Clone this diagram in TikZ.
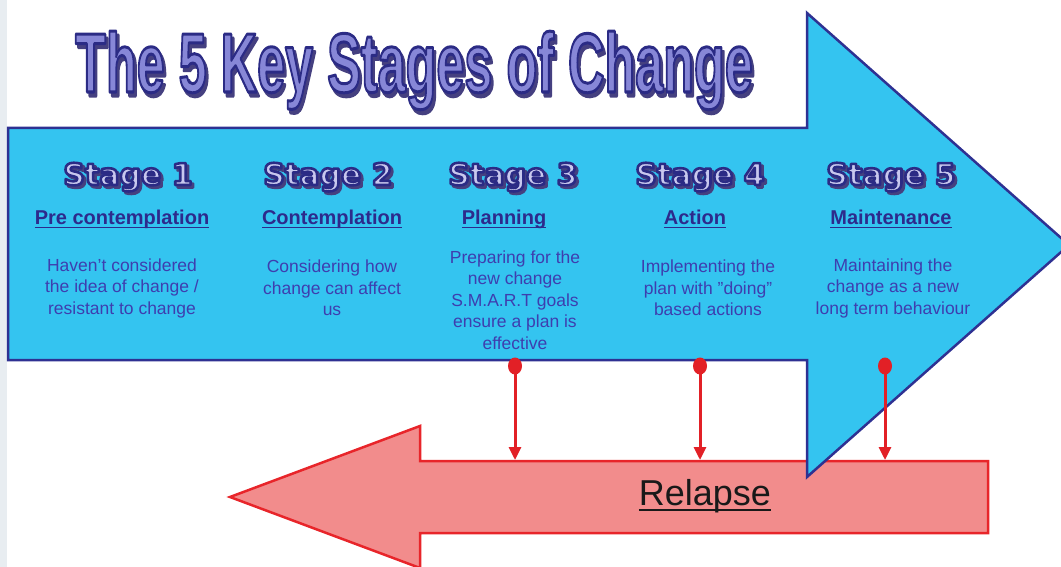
\documentclass[tikz,border=0pt]{standalone}
\usepackage{fontspec}
\setmainfont{Liberation Sans}
\newfontfamily\stagefont{DejaVu Sans}
\usetikzlibrary{arrows.meta,shapes.geometric}

\definecolor{arrowblue}{RGB}{52,196,240}
\definecolor{edgeblue}{RGB}{46,49,146}
\definecolor{relapsefill}{RGB}{242,140,140}
\definecolor{relapseedge}{RGB}{232,37,42}
\definecolor{linkred}{RGB}{226,32,38}
\definecolor{phasenavy}{RGB}{45,42,140}
\definecolor{bodyblue}{RGB}{62,62,175}
\definecolor{titlefill}{RGB}{135,135,215}
\definecolor{stagefill}{RGB}{200,200,238}
\definecolor{shadowblue}{RGB}{70,64,128}
\definecolor{pagegrey}{RGB}{232,237,241}

% outlined letters: fill in the text colour, stroke given as r g b
\newcommand{\outlined}[3]{\special{pdf:literal 2 Tr #2 w 1 j #1 RG}#3\special{pdf:literal 0 Tr}}
% outlined letters with a drop shadow (offset, stroke width, text)
\newcommand{\embossed}[3]{\rlap{\kern#1\raisebox{-#1}{\color{shadowblue}\outlined{0.27 0.25 0.5}{#2}{#3}}}\outlined{0.17 0.17 0.52}{#2}{#3}}
\newcommand{\ulbar}[2]{\setbox0\hbox{#2}\rlap{\rule[-#1]{\wd0}{1.6pt}}\box0}

\tikzset{
	titletext/.style = {anchor=base, text=titlefill, font=\bfseries\fontsize{84}{84}\selectfont},
	stagetext/.style = {anchor=base, text=stagefill, font=\stagefont\bfseries\fontsize{30}{30}\selectfont},
	phase/.style = {anchor=base, text=phasenavy, font=\bfseries\fontsize{20}{20}\selectfont},
	blurb/.style = {align=center, text=bodyblue, font=\fontsize{17.5}{21.5}\selectfont},
	dot/.style = {ellipse, fill=linkred, minimum width=14pt, minimum height=17pt, inner sep=0pt},
	link/.style = {draw=linkred, line width=3pt, -{Triangle[length=13pt,width=12pt]}}
}

\begin{document}
\begin{tikzpicture}[x=1pt, y=-1pt]
	\useasboundingbox (0,0) rectangle (1061,567);
	\fill[pagegrey] (0,0) rectangle (7,567);

	% relapse arrow
	\draw[fill=relapsefill, draw=relapseedge, line width=2.5pt, line join=miter]
		(230,497) -- (420,426) -- (420,461) -- (988,461) -- (988,533) -- (420,533) -- (420,568) -- cycle;

	% main arrow
	\draw[fill=arrowblue, draw=edgeblue, line width=2.5pt, line join=miter]
		(8,128) -- (807,128) -- (807,13) -- (1069,245) -- (807,477) -- (807,360) -- (8,360) -- cycle;

	% title
	\node[titletext] (title) at (414,92) {\scalebox{0.6}[1]{\embossed{4pt}{3}{The 5 Key Stages of Change}}};

	% stage headings
	\node[stagetext] (stage1) at (128,185) {\embossed{2.5pt}{2.6}{Stage 1}};
	\node[stagetext] (stage2) at (328,185) {\embossed{2.5pt}{2.6}{Stage 2}};
	\node[stagetext] (stage3) at (513,185) {\embossed{2.5pt}{2.6}{Stage 3}};
	\node[stagetext] (stage4) at (700,185) {\embossed{2.5pt}{2.6}{Stage 4}};
	\node[stagetext] (stage5) at (891,185) {\embossed{2.5pt}{2.6}{Stage 5}};

	% phase names
	\node[phase] (precon) at (122,225) {\ulbar{3.2pt}{Pre contemplation}};
	\node[phase] (contem) at (332,225) {\ulbar{3.2pt}{Contemplation}};
	\node[phase] (plan) at (504,225) {\ulbar{3.2pt}{Planning}};
	\node[phase] (action) at (695,225) {\ulbar{3.2pt}{Action}};
	\node[phase] (maint) at (891,225) {\ulbar{3.2pt}{Maintenance}};

	% descriptions
	\node[blurb] (precontxt) at (122,288) {Haven't considered\\the idea of change /\\resistant to change};
	\node[blurb] (contemtxt) at (332,288) {Considering how\\change can affect\\us};
	\node[blurb] (plantxt) at (515,300) {Preparing for the\\new change\\S.M.A.R.T goals\\ensure a plan is\\effective};
	\node[blurb] (actiontxt) at (708,288) {Implementing the\\plan with "doing"\\based actions};
	\node[blurb] (mainttxt) at (893,288) {Maintaining the\\change as a new\\long term behaviour};

	% relapse label
	\node[anchor=base, font=\fontsize{36}{36}\selectfont, text=black!90] (relapse) at (705,505) {\ulbar{6pt}{Relapse}};

	% links down to relapse
	\node[dot] (drop3) at (515,366) {};
	\node[dot] (drop4) at (700,366) {};
	\node[dot] (drop5) at (885,366) {};
	\coordinate (land3) at (515,460);
	\coordinate (land4) at (700,460);
	\coordinate (land5) at (885,460);
	\draw[link] (drop3.center) -- (land3);
	\draw[link] (drop4.center) -- (land4);
	\draw[link] (drop5.center) -- (land5);
\end{tikzpicture}
\end{document}
